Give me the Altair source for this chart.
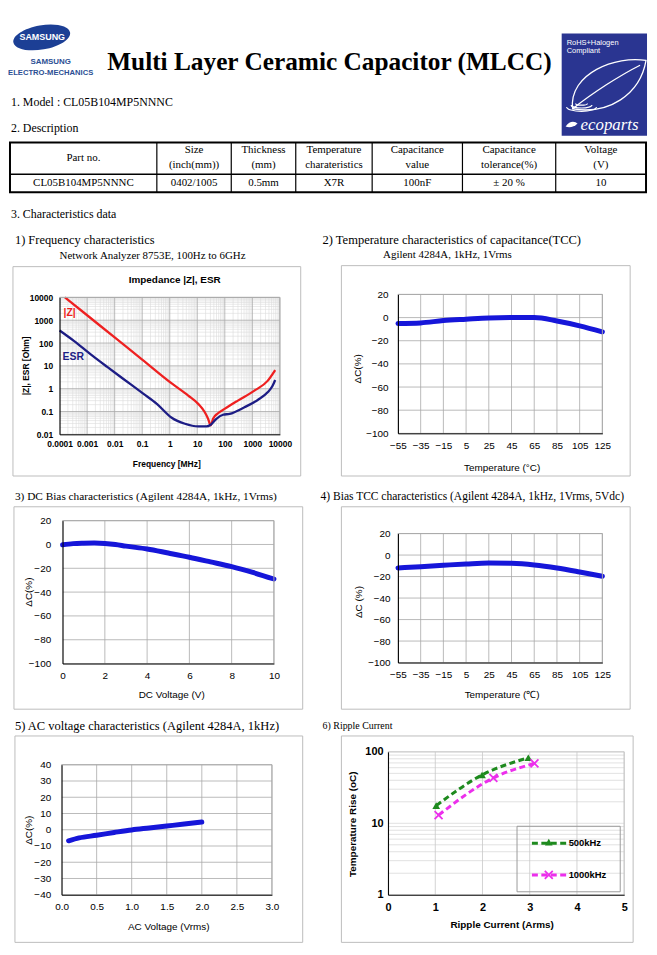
import altair as alt
import pandas as pd

SERIF = "Liberation Serif"
SANS = "Liberation Sans"
BLUE = "#1616d9"
RED = "#ee2020"
NAVY = "#1d1d85"
GREEN = "#1e8a1e"
MAGENTA = "#ec2fec"
FRAME = "#bcbcbc"
GRID = "#a9a9a9"
LOGO_BLUE = "#1c3f95"
ROHS_BLUE = "#2a3591"

# ---------------- texts / table ----------------
company = ["SAMSUNG", "SAMSUNG", "ELECTRO-MECHANICS"]
doc_title = "Multi Layer Ceramic Capacitor (MLCC)"
rohs_text = ["RoHS+Halogen", "Compliant", "ecoparts"]
model_line = "1. Model : CL05B104MP5NNNC"
desc_line = "2. Description"
char_line = "3. Characteristics data"
table_head_1 = ["Part no.", "Size", "Thickness", "Temperature", "Capacitance", "Capacitance", "Voltage"]
table_head_2 = ["", "(inch(mm))", "(mm)", "charateristics", "value", "tolerance(%)", "(V)"]
table_row = ["CL05B104MP5NNNC", "0402/1005", "0.5mm", "X7R", "100nF", "\u00b1 20 %", "10"]

# ---------------- 1) impedance |Z| and ESR (MHz, Ohm) ----------------
z_series = ["|Z|", "ESR"]
z_freq = [0.000156, 0.001, 0.01, 0.1, 1.18, 4.7, 10.8, 18.8, 24.7, 30.8, 37.4, 56.6, 98, 298, 1190, 3590, 6760]
z_ohm = [10000, 1650, 176, 18.9, 1.7, 0.50, 0.216, 0.093, 0.048, 0.0246, 0.048, 0.084, 0.13, 0.30, 0.82, 2.2, 6.5]
esr_freq = [0.0001, 0.000339, 0.00135, 0.00537, 0.0214, 0.112, 0.34, 1.18, 3.57, 10.8, 21.6, 30.8, 49.4, 86, 149, 518, 1570, 3590, 5445, 6760]
esr_ohm = [357, 122, 32, 9.0, 2.6, 0.59, 0.216, 0.053, 0.029, 0.0223, 0.0223, 0.0264, 0.048, 0.072, 0.079, 0.154, 0.32, 0.69, 1.35, 2.4]
freq_ticks = [0.0001, 0.001, 0.01, 0.1, 1, 10, 100, 1000, 10000]
ohm_ticks = [0.01, 0.1, 1, 10, 100, 1000, 10000]

# ---------------- 2) TCC ----------------
tcc_temp = [-55, -35, -15, 5, 25, 45, 65, 85, 105, 125]
tcc_dc = [-5.1, -4.6, -2.6, -1.4, -0.3, 0.0, 0.0, -2.9, -7.1, -12.3]
temp_ticks = [-55, -35, -15, 5, 25, 45, 65, 85, 105, 125]
pct_ticks = [-100, -80, -60, -40, -20, 0, 20]

# ---------------- 3) DC bias ----------------
dc_volt = [0, 0.5, 1, 1.5, 2, 2.5, 3, 4, 5, 6, 7, 8, 9, 10]
dc_dc = [-0.3, 0.7, 1.1, 1.3, 0.9, 0.0, -1.4, -3.8, -7.2, -10.7, -14.6, -18.6, -23.5, -29.0]
dcv_ticks = [0, 2, 4, 6, 8, 10]

# ---------------- 4) Bias TCC ----------------
btcc_temp = [-55, -35, -15, 5, 25, 45, 65, 85, 105, 125]
btcc_dc = [-12.0, -10.8, -9.5, -8.3, -7.4, -7.7, -9.2, -12.0, -15.7, -19.7]

# ---------------- 5) AC voltage ----------------
ac_volt = [0.1, 0.25, 0.5, 0.75, 1.0, 1.25, 1.5, 1.75, 2.0]
ac_dc = [-6.8, -5.0, -3.4, -1.7, -0.1, 1.1, 2.3, 3.5, 4.8]
acv_ticks = [0.0, 0.5, 1.0, 1.5, 2.0, 2.5, 3.0]
ac_pct_ticks = [-40, -30, -20, -10, 0, 10, 20, 30, 40]

# ---------------- 6) Ripple current ----------------
ripple_series = ["500kHz", "1000kHz"]
r500_i = [1.02, 1.99, 2.97]
r500_t = [17.7, 47.5, 82.6]
r1000_i = [1.07, 2.23, 3.10]
r1000_t = [13.0, 43.2, 68.9]
arms_ticks = [0, 1, 2, 3, 4, 5]
rise_ticks = [1, 10, 100]

# ---------------- layout (page pixels) ----------------
TABLE_X = [7, 155, 230, 295, 372, 463, 557, 648]
TABLE_Y = [140, 172, 190]

ONE = pd.DataFrame({"k": [0]})
ELLIPSE = "M -1 0 A 1 0.42 0 1 1 1 0 A 1 0.42 0 1 1 -1 0 Z"
LEAF = ("M -0.9 0.6 C -1.0 -0.3 0.2 -0.75 0.95 -0.62 C 0.8 0.25 0.0 0.75 -0.9 0.6 Z "
        "M -0.9 0.6 C -0.4 0.2 0.3 -0.25 0.8 -0.5")
HALF_ELLIPSE = "M -1 0 A 1 0.3 0 0 0 1 0"
SMALL_LEAF = "M -1 0.3 C -0.3 -0.8 0.6 -0.6 1 -0.2 C 0.4 0.4 -0.4 0.6 -1 0.3 Z"
XMARK = "M -1 -1 L 1 1 M -1 1 L 1 -1"


def text(o, s, X, Y, size, font=SERIF, weight="normal", align="left",
         baseline="alphabetic", angle=0, color="black", style="normal"):
    kw = dict(text=s, font=font, fontSize=size, fontWeight=weight, align=align,
              baseline=baseline, color=color, fontStyle=style)
    if angle:
        kw["angle"] = angle
    return alt.Chart(ONE).mark_text(**kw).encode(x=alt.value(X - o[0]), y=alt.value(Y - o[1]))


def rect(o, x0, y0, x1, y1, fill=None, stroke=None, sw=1.0, opacity=1.0):
    kw = {"opacity": opacity}
    if fill is None:
        kw["fillOpacity"] = 0
    else:
        kw["fill"] = fill
    if stroke is not None:
        kw["stroke"] = stroke
        kw["strokeWidth"] = sw
    return alt.Chart(ONE).mark_rect(**kw).encode(
        x=alt.value(x0 - o[0]), x2=alt.value(x1 - o[0]),
        y=alt.value(y0 - o[1]), y2=alt.value(y1 - o[1]))


def seg(o, x0, y0, x1, y1, color, sw=1.0, dash=None):
    kw = dict(color=color, strokeWidth=sw)
    if dash:
        kw["strokeDash"] = dash
    enc = dict(x=alt.value(x0 - o[0]), y=alt.value(y0 - o[1]))
    if x1 != x0:
        enc["x2"] = alt.value(x1 - o[0])
    if y1 != y0:
        enc["y2"] = alt.value(y1 - o[1])
    return alt.Chart(ONE).mark_rule(**kw).encode(**enc)


def sym(o, X, Y, shape, size, color, filled=True, sw=1.0, angle=0):
    kw = dict(shape=shape, size=size, color=color, filled=filled, opacity=1, strokeWidth=sw)
    if angle:
        kw["angle"] = angle
    return alt.Chart(ONE).mark_point(**kw).encode(x=alt.value(X - o[0]), y=alt.value(Y - o[1]))


class Panel:
    """A cell of the page whose view is the whole cell; the plot sits inside via scale ranges."""

    def __init__(self, cell, plot, frame):
        self.cell, self.plot, self.frame = cell, plot, frame
        cx0, cy0, cx1, cy1 = cell
        px0, py0, px1, py1 = plot
        self.o = (cx0, cy0)
        self.W, self.H = cx1 - cx0, cy1 - cy0
        self.xr = [px0 - cx0, px1 - cx0]
        self.yr = [py1 - cy0, py0 - cy0]

    def xscale(self, domain, typ="linear"):
        return alt.Scale(type=typ, domain=domain, range=self.xr, nice=False)

    def yscale(self, domain, typ="linear"):
        return alt.Scale(type=typ, domain=domain, range=self.yr, nice=False)

    def xaxis(self, values, fmt=None, pad=7, size=10, weight="normal"):
        kw = dict(values=values, title=None, ticks=False, grid=False, domainColor="black",
                  domainWidth=1, labelFont=SANS, labelFontSize=size, labelFontWeight=weight,
                  labelColor="black", labelPadding=pad, labelFlush=False, labelOverlap=False,
                  orient="bottom", offset=-(self.cell[3] - self.plot[3]), zindex=1)
        if fmt:
            kw["format"] = fmt
        return alt.Axis(**kw)

    def yaxis(self, values, fmt=None, pad=7, size=10, weight="normal"):
        kw = dict(values=values, title=None, ticks=False, grid=False, domainColor="black",
                  domainWidth=1, labelFont=SANS, labelFontSize=size, labelFontWeight=weight,
                  labelColor="black", labelPadding=pad, labelFlush=False, labelOverlap=False,
                  orient="left", offset=-(self.plot[0] - self.cell[0]), zindex=1)
        if fmt:
            kw["format"] = fmt
        return alt.Axis(**kw)

    def vgrid(self, vals, xs, xa, color, sw=0.8):
        return alt.Chart(pd.DataFrame({"g": vals})).mark_rule(color=color, strokeWidth=sw).encode(
            x=alt.X("g:Q", scale=xs, axis=xa),
            y=alt.value(self.plot[1] - self.o[1]), y2=alt.value(self.plot[3] - self.o[1]))

    def hgrid(self, vals, ys, ya, color, sw=0.8):
        return alt.Chart(pd.DataFrame({"g": vals})).mark_rule(color=color, strokeWidth=sw).encode(
            y=alt.Y("g:Q", scale=ys, axis=ya),
            x=alt.value(self.plot[0] - self.o[0]), x2=alt.value(self.plot[2] - self.o[0]))

    def border(self, color):
        px0, py0, px1, py1 = self.plot
        return [seg(self.o, px0, py0, px1, py0, color), seg(self.o, px1, py0, px1, py1, color)]

    def build(self, layers):
        fr = rect(self.o, *self.frame, stroke=FRAME, sw=1)
        return alt.layer(fr, *layers).properties(width=self.W, height=self.H)


# ================= header =================
oh = (8, 8)
hl = []
hl.append(sym(oh, 39, 34, ELLIPSE, 3364, LOGO_BLUE, angle=350))
hl.append(text(oh, company[0], 39.5, 34, 9, SANS, "bold", "center", "middle", color="white"))
hl.append(text(oh, company[1], 48, 59, 8, SANS, "bold", "center", "middle", color="#2c4f94"))
hl.append(text(oh, company[2], 48, 69.5, 7.7, SANS, "bold", "center", "middle", color="#2c4f94"))
hl.append(text(oh, doc_title, 105, 67, 25.5, SERIF, "bold"))
# RoHS logo
hl.append(rect(oh, 563, 30, 649, 133, fill=ROHS_BLUE))
hl.append(text(oh, rohs_text[0], 568, 41.5, 7.5, SANS, color="white"))
hl.append(text(oh, rohs_text[1], 568, 50, 7.5, SANS, color="white"))
hl.append(sym(oh, 610, 82, LEAF, 6400, "white", filled=False, sw=1.3))
hl.append(sym(oh, 583, 104, HALF_ELLIPSE, 900, "white", filled=False, sw=1.2))
hl.append(sym(oh, 583, 102, HALF_ELLIPSE, 440, "white", filled=False, sw=1.2))
hl.append(sym(oh, 583, 100.5, HALF_ELLIPSE, 144, "white", filled=False, sw=1.2))
hl.append(sym(oh, 573, 122, SMALL_LEAF, 144, "white"))
hl.append(text(oh, rohs_text[2], 582, 127, 17, SERIF, color="white", style="italic"))
# lines of text
hl.append(text(oh, model_line, 8, 103.5, 12))
hl.append(text(oh, desc_line, 8, 129.5, 12))
hl.append(text(oh, char_line, 8, 216, 12))
# table
hl.append(rect(oh, TABLE_X[0], TABLE_Y[0], TABLE_X[-1], TABLE_Y[-1], stroke="black", sw=2))
hl.append(seg(oh, TABLE_X[0], TABLE_Y[1], TABLE_X[-1], TABLE_Y[1], "black", 1.5))
for xe in TABLE_X[1:-1]:
    hl.append(seg(oh, xe, TABLE_Y[0], xe, TABLE_Y[-1], "black", 1.2))
cells = []
for i in range(7):
    cx = (TABLE_X[i] + TABLE_X[i + 1]) / 2 - oh[0]
    if table_head_2[i]:
        cells.append((cx, 147.5 - oh[1], table_head_1[i]))
        cells.append((cx, 163 - oh[1], table_head_2[i]))
    else:
        cells.append((cx, 156 - oh[1], table_head_1[i]))
    cells.append((cx, 181 - oh[1], table_row[i]))
cell_df = pd.DataFrame(cells, columns=["x", "y", "t"])
hl.append(alt.Chart(cell_df).mark_text(font=SERIF, fontSize=11, align="center", baseline="middle", color="black").encode(
    x=alt.X("x:Q", scale=None, axis=None), y=alt.Y("y:Q", scale=None, axis=None), text="t:N"))
header = alt.layer(*hl).properties(width=641, height=217)

# ================= 1) impedance =================
P1 = Panel((8, 225, 320, 484), (57, 296, 279, 434), (10, 265, 300, 476))
o = P1.o
xs = P1.xscale([1e-4, 1e4], "log")
ys = P1.yscale([1e-2, 1e4], "log")
xa = P1.xaxis(freq_ticks, "~g", 5, 8.5, "bold")
ya = P1.yaxis(ohm_ticks, "~g", 7, 8.5, "bold")
xminor = [m * d for d in freq_ticks[:-1] for m in range(2, 10)]
yminor = [m * d for d in ohm_ticks[:-1] for m in range(2, 10)]
l1 = [
    P1.vgrid(xminor, xs, xa, "#dcdcdc", 0.6),
    P1.hgrid(yminor, ys, ya, "#dcdcdc", 0.6),
    P1.vgrid(freq_ticks, xs, xa, GRID, 0.8),
    P1.hgrid(ohm_ticks, ys, ya, GRID, 0.8),
    alt.Chart(pd.DataFrame({"f": z_freq, "v": z_ohm})).mark_line(color=RED, strokeWidth=2.3, interpolate="monotone").encode(
        x=alt.X("f:Q", scale=xs, axis=xa), y=alt.Y("v:Q", scale=ys, axis=ya)),
    alt.Chart(pd.DataFrame({"f": esr_freq, "v": esr_ohm})).mark_line(color=NAVY, strokeWidth=2.3, interpolate="monotone").encode(
        x=alt.X("f:Q", scale=xs, axis=xa), y=alt.Y("v:Q", scale=ys, axis=ya)),
    text(o, "1) Frequency characteristics", 12, 242, 12.5),
    text(o, "Network Analyzer 8753E, 100Hz to 6GHz", 57, 257, 11),
    text(o, "Impedance |Z|,  ESR", 173, 278, 10, SANS, "bold", "center", "middle"),
    text(o, "|Z|, ESR [Ohm]", 23, 365, 8.5, SANS, "bold", "center", "middle", angle=270),
    text(o, "Frequency [MHz]", 165, 464, 8.5, SANS, "bold", "center", "middle"),
    text(o, z_series[0], 61, 311.5, 10.5, SANS, "bold", "left", "middle", color=RED),
    text(o, z_series[1], 60, 356, 10.5, SANS, "bold", "left", "middle", color=NAVY),
] + P1.border(GRID)
p1 = P1.build(l1)


# ================= generic linear panels =================
def line_panel(P, xv, yv, xdom, xt, ydom, yt, xpad, ypad, texts, xfmt=None):
    xsc = P.xscale(xdom)
    ysc = P.yscale(ydom)
    xa_ = P.xaxis(xt, xfmt, xpad)
    ya_ = P.yaxis(yt, None, ypad)
    layers = [
        P.vgrid(xt, xsc, xa_, GRID),
        P.hgrid(yt, ysc, ya_, GRID),
        alt.Chart(pd.DataFrame({"a": xv, "b": yv})).mark_line(
            color=BLUE, strokeWidth=5, interpolate="monotone", strokeCap="round").encode(
            x=alt.X("a:Q", scale=xsc, axis=xa_), y=alt.Y("b:Q", scale=ysc, axis=ya_)),
    ]
    layers += texts
    layers += P.border(GRID)
    return P.build(layers)


P2 = Panel((320, 225, 649, 484), (398, 293, 604, 433), (341, 264, 632, 476))
o2 = P2.o
p2 = line_panel(P2, tcc_temp, tcc_dc, [-55, 125], temp_ticks, [-100, 20], pct_ticks, 7, 10,
                [text(o2, "2) Temperature characteristics of capacitance(TCC)", 322, 242, 12.6),
                 text(o2, "Agilent 4284A, 1kHz, 1Vrms", 383, 256, 11),
                 text(o2, "Temperature (\u00b0C)", 503, 468, 10, SANS, align="center", baseline="middle"),
                 text(o2, "\u0394C(%)", 358, 368, 10, SANS, align="center", baseline="middle", angle=270)])

P3 = Panel((8, 484, 320, 716), (60, 521, 273, 665), (11, 507, 302, 711))
o3 = P3.o
p3 = line_panel(P3, dc_volt, dc_dc, [0, 10], dcv_ticks, [-100, 20], pct_ticks, 7, 12,
                [text(o3, "3) DC Bias characteristics (Agilent 4284A, 1kHz, 1Vrms)", 12, 500, 11.4),
                 text(o3, "DC Voltage (V)", 170, 697, 10, SANS, align="center", baseline="middle"),
                 text(o3, "\u0394C(%)", 26, 593, 10, SANS, align="center", baseline="middle", angle=270)])

P4 = Panel((320, 484, 649, 716), (398, 534, 604, 664), (341, 507, 632, 711))
o4 = P4.o
p4 = line_panel(P4, btcc_temp, btcc_dc, [-55, 125], temp_ticks, [-100, 20], pct_ticks, 7, 8,
                [text(o4, "4) Bias TCC characteristics (Agilent 4284A, 1kHz, 1Vrms, 5Vdc)", 320, 500, 11.6),
                 text(o4, "Temperature (\u2103)", 503, 697, 10, SANS, align="center", baseline="middle"),
                 text(o4, "\u0394C (%)", 359, 603, 10, SANS, align="center", baseline="middle", angle=270)])

P5 = Panel((8, 716, 320, 947), (59, 767, 271, 898), (12, 738, 302, 946))
o5 = P5.o
p5 = line_panel(P5, ac_volt, ac_dc, [0, 3], acv_ticks, [-40, 40], ac_pct_ticks, 7, 11,
                [text(o5, "5) AC voltage characteristics (Agilent 4284A, 1kHz)", 12, 732, 12.6),
                 text(o5, "AC Voltage (Vrms)", 167, 931, 10, SANS, align="center", baseline="middle"),
                 text(o5, "\u0394C(%)", 26, 833, 10, SANS, align="center", baseline="middle", angle=270)],
                xfmt=".1f")

# ================= 6) ripple current =================
P6 = Panel((320, 716, 649, 947), (388, 754, 626, 898), (341, 738, 635, 946))
o6 = P6.o
xs6 = P6.xscale([0, 5])
ys6 = P6.yscale([1, 100], "log")
xa6 = P6.xaxis(arms_ticks, "d", 7, 11, "bold")
ya6 = P6.yaxis(rise_ticks, "d", 5, 11, "bold")
yminor6 = [m * d for d in rise_ticks[:-1] for m in range(2, 10)]
DASH = [6, 3.5]
l6 = [
    P6.hgrid(yminor6 + rise_ticks, ys6, ya6, "#d4d4d4", 0.7),
    P6.vgrid(arms_ticks, xs6, xa6, "#c8c8c8", 0.8),
    alt.Chart(pd.DataFrame({"i": r500_i, "t": r500_t})).mark_line(
        color=GREEN, strokeWidth=3, strokeDash=DASH, interpolate="monotone").encode(
        x=alt.X("i:Q", scale=xs6, axis=xa6), y=alt.Y("t:Q", scale=ys6, axis=ya6)),
    alt.Chart(pd.DataFrame({"i": r1000_i, "t": r1000_t})).mark_line(
        color=MAGENTA, strokeWidth=3, strokeDash=DASH, interpolate="monotone").encode(
        x=alt.X("i:Q", scale=xs6, axis=xa6), y=alt.Y("t:Q", scale=ys6, axis=ya6)),
    alt.Chart(pd.DataFrame({"i": r500_i, "t": r500_t})).mark_point(
        shape="triangle-up", size=60, filled=True, color=GREEN, opacity=1).encode(
        x=alt.X("i:Q", scale=xs6, axis=xa6), y=alt.Y("t:Q", scale=ys6, axis=ya6)),
    alt.Chart(pd.DataFrame({"i": r1000_i, "t": r1000_t})).mark_point(
        shape=XMARK, size=64, filled=False, color=MAGENTA, strokeWidth=1.8, opacity=1).encode(
        x=alt.X("i:Q", scale=xs6, axis=xa6), y=alt.Y("t:Q", scale=ys6, axis=ya6)),
    text(o6, "6) Ripple Current", 322, 731, 10),
    text(o6, "Ripple Current (Arms)", 503, 929, 10, SANS, "bold", "center", "middle"),
    text(o6, "Temperature Rise (oC)", 353, 827, 10, SANS, "bold", "center", "middle", angle=270),
    rect(o6, 518, 829, 622, 895, stroke="#9a9a9a", sw=1),
    seg(o6, 533, 846, 568, 846, GREEN, 3, DASH),
    sym(o6, 550, 845, "triangle-up", 60, GREEN),
    text(o6, ripple_series[0], 570, 846, 9.5, SANS, "bold", "left", "middle"),
    seg(o6, 533, 878, 568, 878, MAGENTA, 3, DASH),
    sym(o6, 550, 878, XMARK, 64, MAGENTA, filled=False, sw=1.8),
    text(o6, ripple_series[1], 570, 878, 9.5, SANS, "bold", "left", "middle"),
] + P6.border("#c8c8c8")
p6 = P6.build(l6)

row1 = alt.hconcat(p1, p2, spacing=0)
row2 = alt.hconcat(p3, p4, spacing=0)
row3 = alt.hconcat(p5, p6, spacing=0)

chart = alt.vconcat(header, row1, row2, row3, spacing=0).properties(
    padding=0, background="white").configure_view(stroke=None)

chart.save("out.html", embed_options={"renderer": "svg", "actions": False})
